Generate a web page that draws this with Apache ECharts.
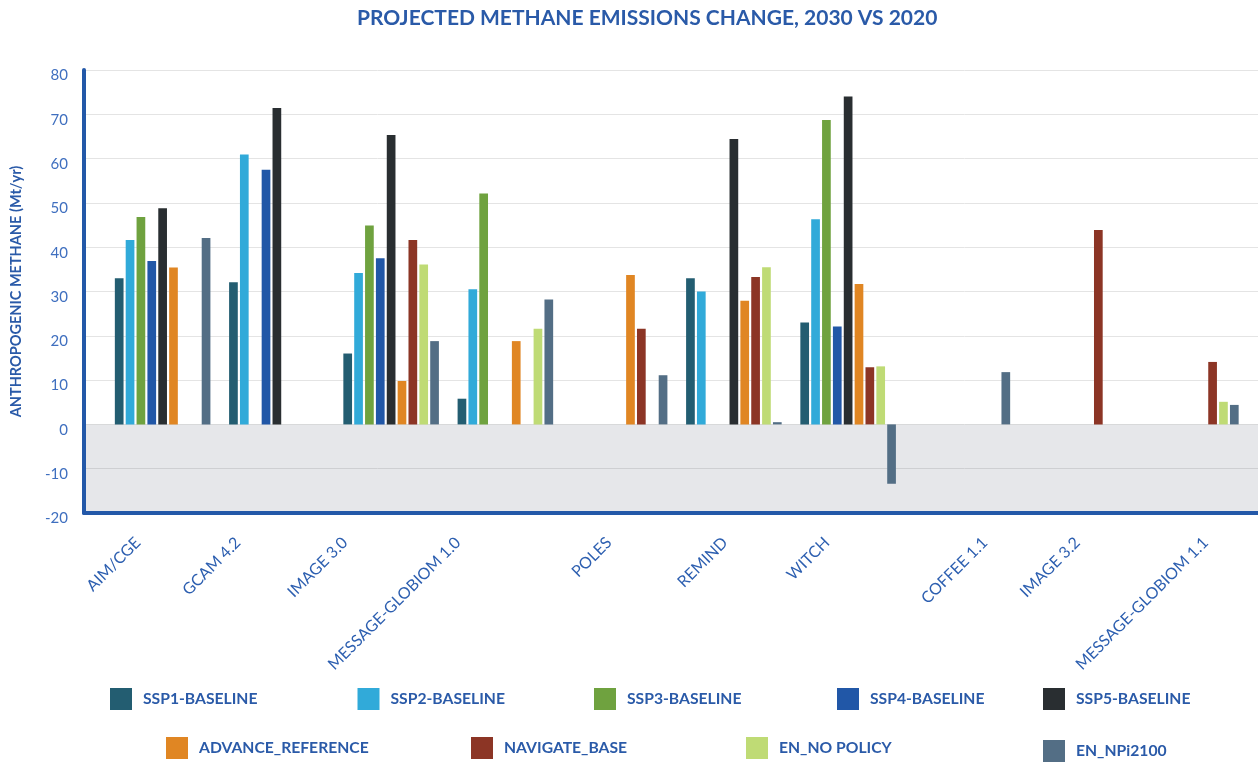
<!DOCTYPE html>
<html>
<head>
<meta charset="utf-8">
<script src="https://cdn.jsdelivr.net/npm/echarts@6/dist/echarts.min.js"></script>
<style>
html,body{margin:0;padding:0;background:#fff;}
#chart{width:1258px;height:764px;}
</style>
</head>
<body>
<div id="chart"></div>
<script>
// ---- data ----
const categories = ['AIM/CGE','GCAM 4.2','IMAGE 3.0','MESSAGE-GLOBIOM 1.0','POLES','REMIND','WITCH','COFFEE 1.1','IMAGE 3.2','MESSAGE-GLOBIOM 1.1'];
const seriesNames = ['SSP1-BASELINE','SSP2-BASELINE','SSP3-BASELINE','SSP4-BASELINE','SSP5-BASELINE','ADVANCE_REFERENCE','NAVIGATE_BASE','EN_NO POLICY','EN_NPi2100'];
const ssp1 =       [33.0, 32.1, 16.0,  5.8, null, 33.0,  23.0, null, null, null];
const ssp2 =       [41.6, 60.9, 34.2, 30.5, null, 30.0,  46.3, null, null, null];
const ssp3 =       [46.8, null, 44.9, 52.1, null, null,  68.7, null, null, null];
const ssp4 =       [36.9, 57.5, 37.5, null, null, null,  22.1, null, null, null];
const ssp5 =       [48.8, 71.4, 65.3, null, null, 64.4,  74.0, null, null, null];
const advance =    [35.4, null,  9.8, 18.8, 33.7, 27.9,  31.7, null, null, null];
const navigate =   [null, null, 41.6, null, 21.6, 33.3,  12.9, null, 43.9, 14.1];
const enNoPolicy = [null, null, 36.1, 21.6, null, 35.5,  13.1, null, null,  5.1];
const enNpi2100 =  [42.1, null, 18.8, 28.2, 11.1,  0.5, -13.4, 11.8, null,  4.4];
const yTicks = [-20, -10, 0, 10, 20, 30, 40, 50, 60, 70, 80];

// ---- layout / style (not data) ----
const colors = ['#235d71','#31aad9','#6fa23f','#2157a7','#292e31','#e08623','#8c3525','#bfdb75','#536e85'];
const labelSlots = [54, 154, 261, 374, 525, 641, 743, 901, 993.5, 1121.6];
const legendPos = [[110,688],[357.5,688],[594,688],[837,688],[1043,688],[166,737],[471,737],[746,737],[1043,740]];
const blue = '#2a5aa8';
const font = 'Lato, "Noto Sans", sans-serif';

const allValues = [ssp1, ssp2, ssp3, ssp4, ssp5, advance, navigate, enNoPolicy, enNpi2100];

const chart = echarts.init(document.getElementById('chart'), null, {renderer:'canvas'});

const barSeries = seriesNames.map((n, i) => ({
  name: n,
  type: 'bar',
  xAxisIndex: 1,
  yAxisIndex: 1,
  data: allValues[i],
  barWidth: 8.7,
  barGap: '24.8%',
  z: 3,
  itemStyle: { color: colors[i] }
}));

const legends = seriesNames.map((n, i) => ({
  data: [{ name: n, icon: 'rect' }],
  left: legendPos[i][0],
  top: legendPos[i][1],
  padding: 0,
  itemWidth: 22,
  itemHeight: 22,
  selectedMode: false,
  textStyle: { color: blue, fontFamily: font, fontWeight: 'bold', fontSize: 15.7, padding: [0,0,0,6] }
}));

const option = {
  animation: false,
  backgroundColor: '#fff',
  title: {
    text: 'PROJECTED METHANE EMISSIONS CHANGE, 2030 VS 2020',
    left: 357, top: 8, padding: 0,
    textStyle: { fontFamily: font, fontWeight: 'bold', fontSize: 21, color: blue }
  },
  legend: legends,
  grid: [
    { left: 84, right: 0, top: 70, bottom: 251 },
    { left: 105.5, right: 10, top: 70, bottom: 251 }
  ],
  xAxis: [
    {
      type: 'value', gridIndex: 0, min: 0, max: 1174, z: 5,
      axisLine: { show: true, onZero: false, lineStyle: { color: '#2358a8', width: 4 } },
      axisTick: { show: false },
      splitLine: { show: false },
      axisLabel: {
        customValues: labelSlots,
        rotate: 45, margin: 27,
        color: '#2d5fb0', fontFamily: font, fontSize: 16,
        formatter: function (v) {
          let best = 0, d = Infinity;
          labelSlots.forEach((s, i) => { if (Math.abs(s - v) < d) { d = Math.abs(s - v); best = i; } });
          return categories[best];
        }
      }
    },
    {
      type: 'category', gridIndex: 1, data: categories, show: false
    }
  ],
  yAxis: [
    {
      type: 'value', gridIndex: 0, min: yTicks[0], max: yTicks[yTicks.length-1], interval: 10,
      name: 'ANTHROPOGENIC METHANE (Mt/yr)', nameLocation: 'middle', nameGap: 60,
      nameTextStyle: { color: blue, fontFamily: font, fontWeight: 'bold', fontSize: 14.5 },
      axisLine: { show: true, lineStyle: { color: '#2358a8', width: 4 } },
      axisTick: { show: false },
      axisLabel: { color: '#3f6fbf', fontFamily: font, fontSize: 15, margin: 16, verticalAlign: 'top', lineHeight: 11 },
      splitLine: { show: true, lineStyle: { color: '#e4e4e4', width: 1 } }
    },
    {
      type: 'value', gridIndex: 1, min: yTicks[0], max: yTicks[yTicks.length-1], interval: 10, show: false,
      splitLine: { show: false }
    }
  ],
  series: [
    {
      type: 'line', xAxisIndex: 0, yAxisIndex: 0, data: [], z: 1, silent: true,
      markArea: {
        silent: true,
        itemStyle: { color: 'rgba(30,40,60,0.11)' },
        data: [[{ coord: [2, -20] }, { coord: [1174, 0] }]]
      }
    }
  ].concat(barSeries)
};

chart.setOption(option);
</script>
</body>
</html>
